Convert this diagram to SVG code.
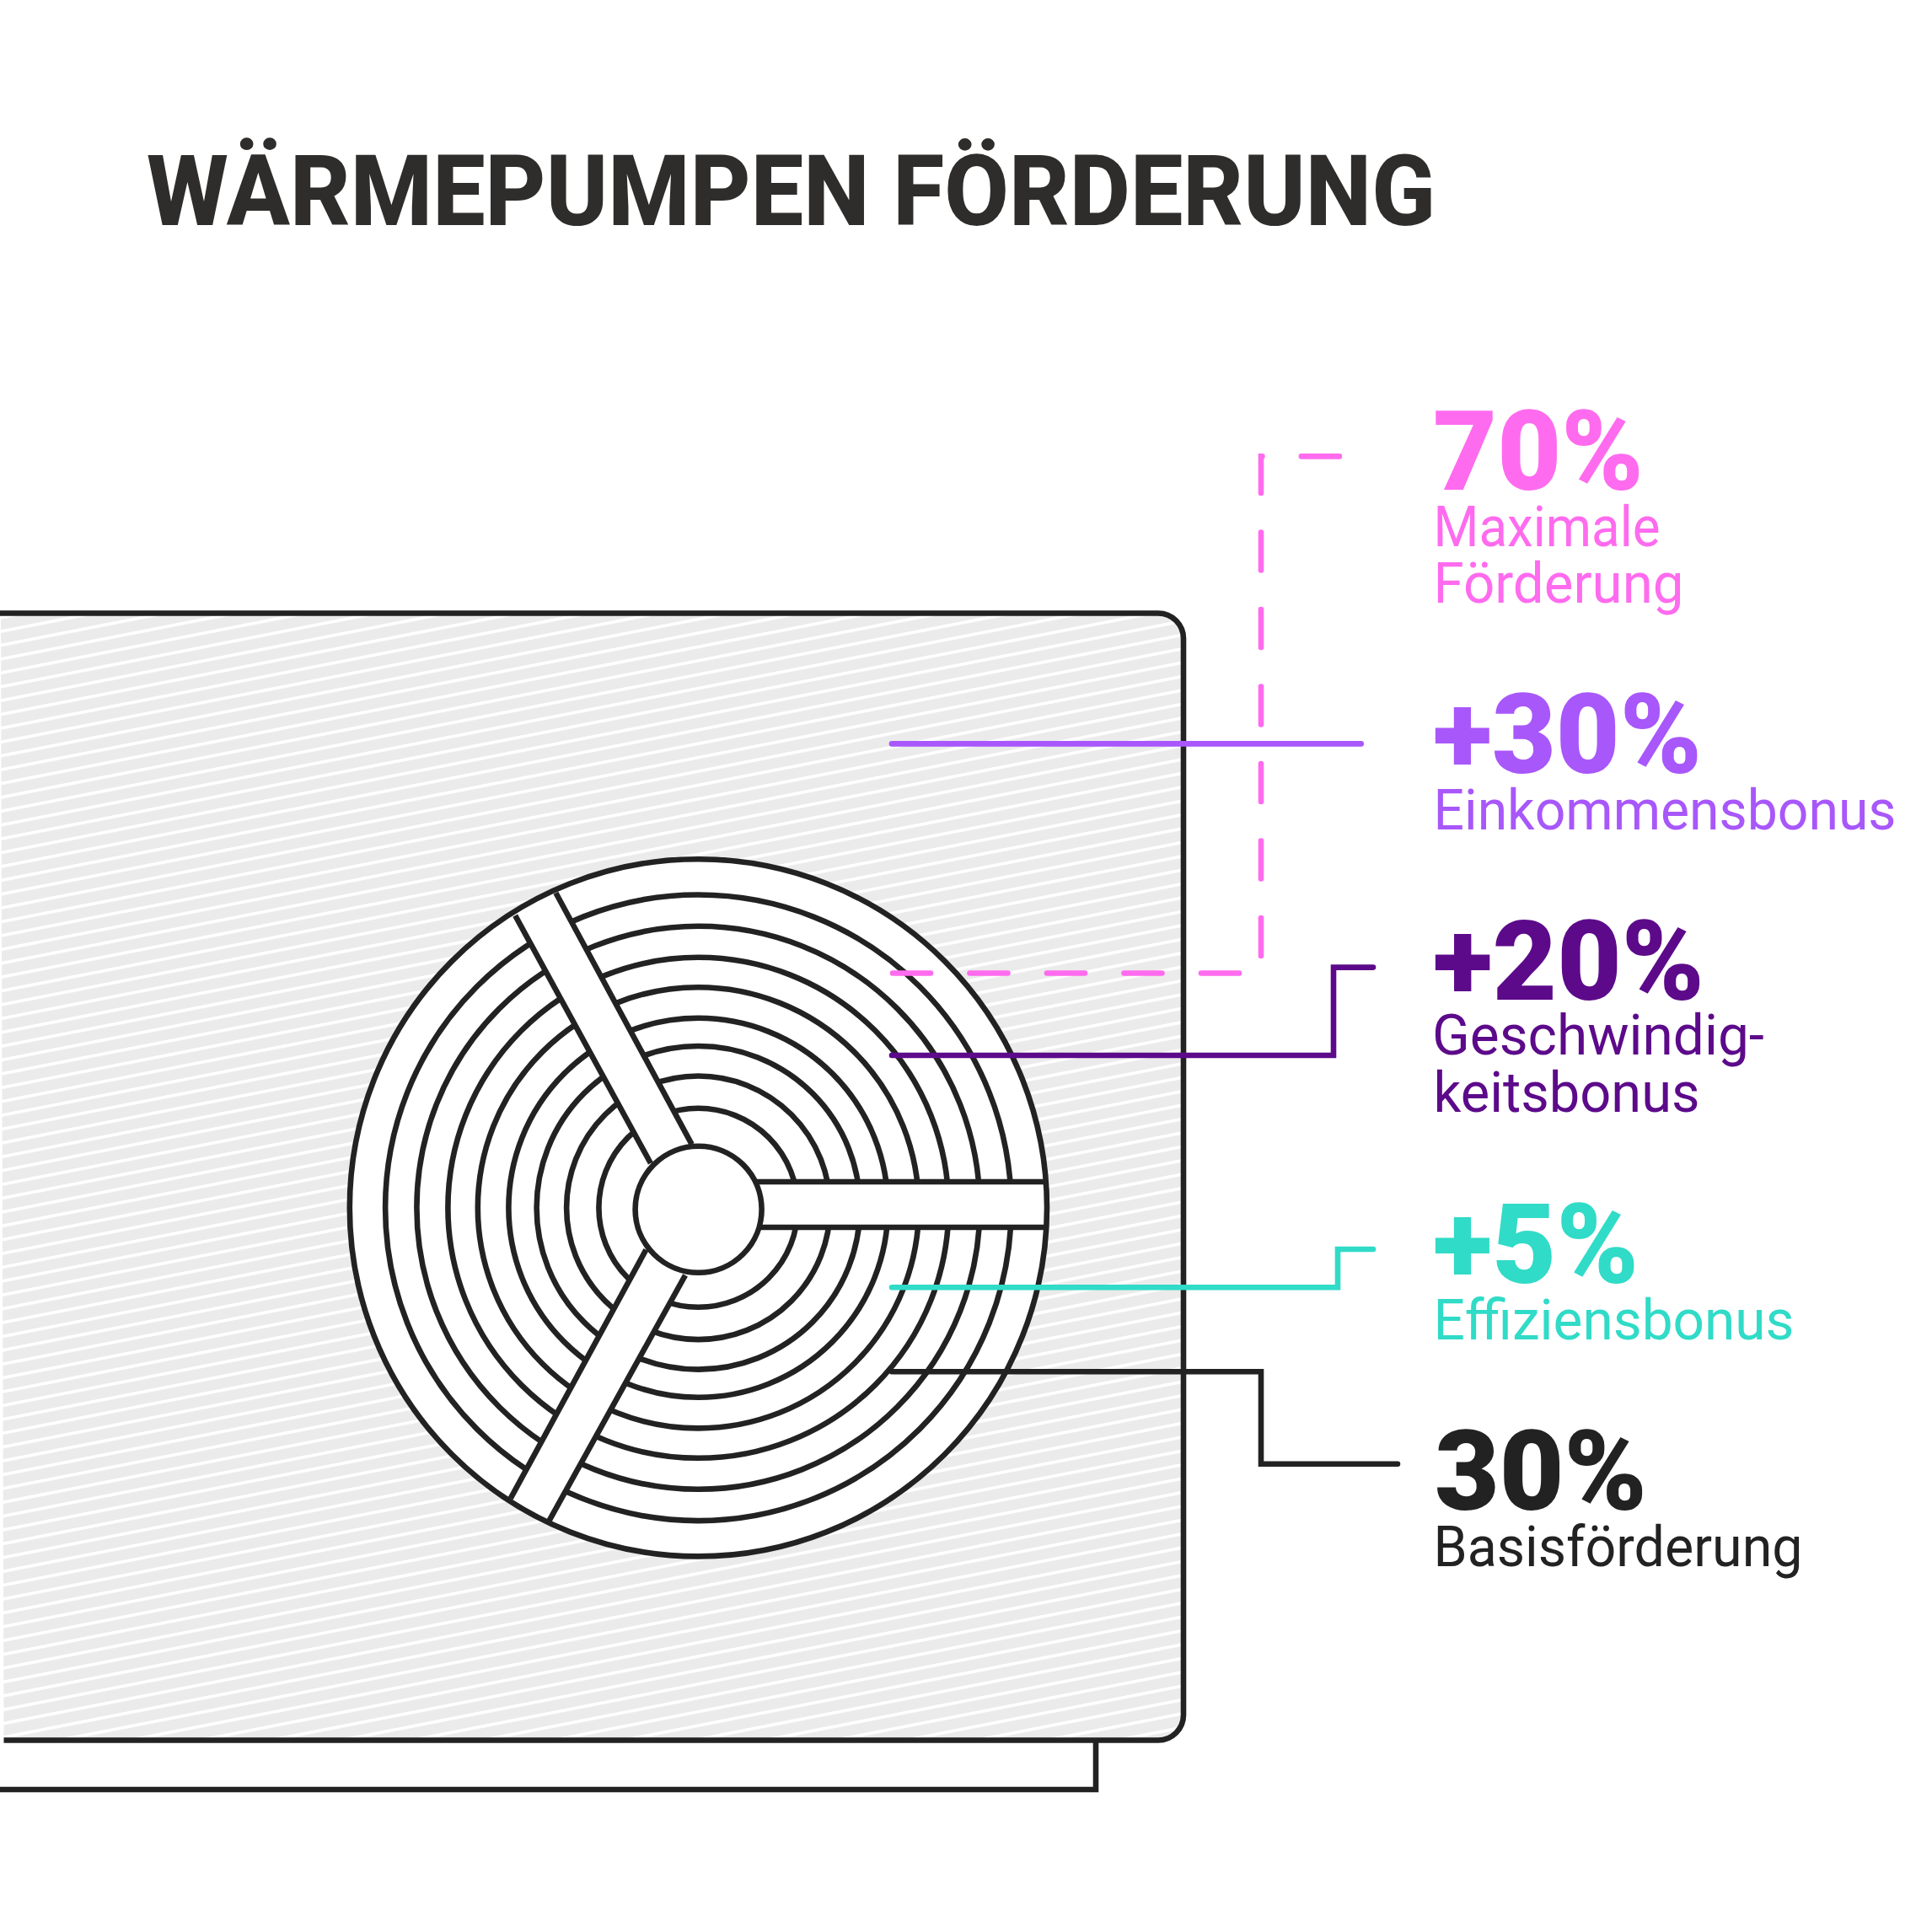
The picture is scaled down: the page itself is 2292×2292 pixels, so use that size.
<svg xmlns="http://www.w3.org/2000/svg" width="2292" height="2292" viewBox="0 0 2292 2292">
<style>
.ln{fill:none;stroke:#222;stroke-width:6.6}
.c{fill:none;stroke-width:6.6;stroke-linecap:round;stroke-linejoin:miter}
.t{font-family:"Roboto","Liberation Sans",sans-serif}
.n{font-size:131px;font-weight:900}
.l{font-size:66px;font-weight:400}
.pink{fill:#ff6bee}.vio{fill:#a857fa}.dp{fill:#5c0a8a}.teal{fill:#30dbc7}.blk{fill:#222}
</style>
<defs>
<pattern id="hatch" width="200" height="16.1" patternUnits="userSpaceOnUse" patternTransform="translate(0,747.46) rotate(-11.09)">
<rect width="200" height="16.1" fill="#ebebeb"/>
<rect width="200" height="3.6" fill="#fff"/>
</pattern>
</defs>
<rect width="2292" height="2292" fill="#fff"/>
<text id="title" class="t" x="174" y="267" font-size="117" font-weight="800" fill="#2e2d2c" textLength="1529" lengthAdjust="spacingAndGlyphs">WÄRMEPUMPEN FÖRDERUNG</text>

<g id="unit">
<path id="foot" class="ln" d="M0,2123 H1300 V2064"/>
<path id="housing" d="M1,727.5 H1374 A30,30 0 0 1 1404,757.5 V2034.5 A30,30 0 0 1 1374,2064.5 H4.5 Z" fill="url(#hatch)"/>
<path class="ln" d="M0,727.5 H1374 A30,30 0 0 1 1404,757.5 V2034.5 A30,30 0 0 1 1374,2064.5 H4.5"/>
</g>

<g id="fan">
<circle cx="828.4" cy="1432.8" r="413.6" fill="#fff"/>
<g class="ln">
<circle cx="828.4" cy="1432.8" r="371.3"/>
<circle cx="828.4" cy="1432.8" r="334"/>
<circle cx="828.4" cy="1432.8" r="297"/>
<circle cx="828.4" cy="1432.8" r="261.6"/>
<circle cx="828.4" cy="1432.8" r="225"/>
<circle cx="828.4" cy="1432.8" r="191.8"/>
<circle cx="828.4" cy="1432.8" r="156.3"/>
<circle cx="828.4" cy="1432.8" r="118"/>
</g>
<polygon points="611.2,1086.1 659.4,1059.2 820.7,1357.6 771.9,1380" fill="#fff"/>
<polygon points="605.7,1777.7 651.2,1804.6 813,1512.8 766.4,1482.6" fill="#fff"/>
<rect x="880" y="1402" width="362" height="54" fill="#fff"/>
<path class="ln" d="M611.2,1086.1 L771.9,1380 M659.4,1059.2 L820.7,1357.6 M605.7,1777.7 L766.4,1482.6 M651.2,1804.6 L813,1512.8 M897,1402 H1242 M900,1456 H1242"/>
<circle class="ln" cx="828.4" cy="1432.8" r="413.6"/>
<circle class="ln" cx="828.6" cy="1434.7" r="75" style="fill:#fff"/>
</g>

<g id="connectors">
<path class="c" stroke="#ff6bee" stroke-dasharray="45 46.5" d="M1059,1154.5 H1496 V541.4 H1594"/>
<path class="c" stroke="#a857fa" d="M1058,882.4 H1614.7"/>
<path class="c" stroke="#5c0a8a" d="M1058,1252 H1582 V1147.6 H1629"/>
<path class="c" stroke="#30dbc7" d="M1058,1527.3 H1587 V1482 H1629"/>
<path class="c" stroke="#222" d="M1058,1627.3 H1496 V1736.7 H1658"/>
</g>

<g id="label-70" class="t pink">
<text class="n" x="1700" y="580.5" textLength="250" lengthAdjust="spacingAndGlyphs">70%</text>
<text class="l" x="1700.5" y="648" textLength="269" lengthAdjust="spacingAndGlyphs">Maximale</text>
<text class="l" x="1700.5" y="715" textLength="297" lengthAdjust="spacingAndGlyphs">Förderung</text>
</g>
<g id="label-30plus" class="t vio">
<text class="n" x="1700" y="917" textLength="319" lengthAdjust="spacingAndGlyphs">+30%</text>
<text class="l" x="1700.5" y="984" textLength="549" lengthAdjust="spacingAndGlyphs">Einkommensbonus</text>
</g>
<g id="label-20" class="t dp">
<text class="n" x="1700" y="1186" textLength="322" lengthAdjust="spacingAndGlyphs">+20%</text>
<text class="l" x="1699" y="1251" textLength="394" lengthAdjust="spacingAndGlyphs">Geschwindig-</text>
<text class="l" x="1700.5" y="1319" textLength="316" lengthAdjust="spacingAndGlyphs">keitsbonus</text>
</g>
<g id="label-5" class="t teal">
<text class="n" x="1700" y="1522" textLength="244" lengthAdjust="spacingAndGlyphs">+5%</text>
<text class="l" x="1700.5" y="1589" textLength="428" lengthAdjust="spacingAndGlyphs">Effiziensbonus</text>
</g>
<g id="label-30" class="t blk">
<text class="n" x="1702" y="1791" textLength="252" lengthAdjust="spacingAndGlyphs">30%</text>
<text class="l" x="1700.5" y="1858" textLength="438" lengthAdjust="spacingAndGlyphs">Basisförderung</text>
</g>
</svg>
